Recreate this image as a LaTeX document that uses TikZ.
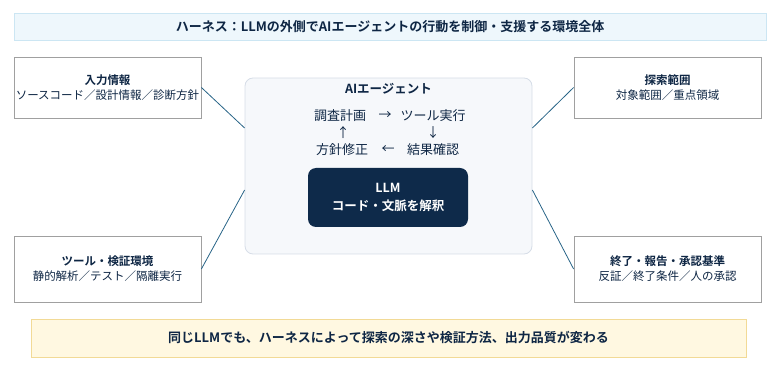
\documentclass[tikz,border=0pt]{standalone}
\usepackage{fontspec}
\setmainfont{Noto Sans CJK JP}[BoldFont={Noto Sans CJK JP Bold}]
\usetikzlibrary{positioning}
\definecolor{hnavy}{RGB}{14,38,68}
\definecolor{hline}{RGB}{40,100,135}
\definecolor{hgray}{RGB}{160,160,160}
\definecolor{hbluebg}{RGB}{238,247,252}
\definecolor{hblueedge}{RGB}{204,230,243}
\definecolor{hagentbg}{RGB}{246,248,251}
\definecolor{hagentedge}{RGB}{214,221,231}
\definecolor{hllm}{RGB}{14,42,74}
\definecolor{hyellowbg}{RGB}{255,248,225}
\definecolor{hyellowedge}{RGB}{242,218,150}

\begin{document}
\begin{tikzpicture}[
  x=1pt, y=-1pt,
  banner/.style={rectangle, draw=#1edge, fill=#1bg, line width=0.8pt,
                 text=hnavy, inner sep=0pt, text centered,
                 font=\fontsize{13}{15}\selectfont\bfseries},
  sidebox/.style={rectangle, draw=hgray, fill=white, line width=0.8pt,
                  minimum width=187pt, minimum height=#1, inner sep=0pt,
                  align=center, text=hnavy,
                  font=\fontsize{11.5}{15}\selectfont},
  looptext/.style={text=hnavy, inner sep=0pt,
                   font=\fontsize{13}{15}\selectfont},
  link/.style={draw=hline, line width=0.8pt}
]
\useasboundingbox (0,0) rectangle (780,371);

%% Banners
\node[banner=hblue, minimum width=752pt, minimum height=27pt] (title) at (390,26.5)
  {ハーネス：LLMの外側でAIエージェントの行動を制御・支援する環境全体};
\node[banner=hyellow, minimum width=715pt, minimum height=38pt] (note) at (388.5,338)
  {同じLLMでも、ハーネスによって探索の深さや検証方法、出力品質が変わる};

%% Agent block
\node[rectangle, rounded corners=8pt, draw=hagentedge, fill=hagentbg, line width=0.8pt,
      minimum width=287pt, minimum height=176pt] (agent) at (388.5,166) {};
\node[text=hnavy, inner sep=0pt, font=\fontsize{12.5}{15}\selectfont\bfseries]
  (agenttitle) at (388.5,89) {AIエージェント};

\node[looptext] (plan)  at (340,116) {調査計画};
\node[looptext] (toarr) at (385,116) {→};
\node[looptext] (tool)  at (433,116) {ツール実行};
\node[looptext] (uparr) at (343,133) {↑};
\node[looptext] (dnarr) at (433,133) {↓};
\node[looptext] (fix)   at (342,150) {方針修正};
\node[looptext] (bkarr) at (388,150) {←};
\node[looptext] (check) at (433,150) {結果確認};

\node[rectangle, rounded corners=8pt, fill=hllm, minimum width=160pt, minimum height=59pt,
      text=white, align=center, inner sep=0pt,
      font=\fontsize{12.5}{18}\selectfont\bfseries] (llm) at (388,197.5)
  {LLM\\コード・文脈を解釈};

%% Harness parts
\node[sidebox=61pt] (input) at (107.5,87.5)
  {{\bfseries 入力情報}\\ソースコード／設計情報／診断方針};
\node[sidebox=61pt] (scope) at (667.5,87.5)
  {{\bfseries 探索範囲}\\対象範囲／重点領域};
\node[sidebox=66pt] (tools) at (107.5,269)
  {{\bfseries ツール・検証環境}\\静的解析／テスト／隔離実行};
\node[sidebox=66pt] (stop)  at (667.5,269)
  {{\bfseries 終了・報告・承認基準}\\反証／終了条件／人の承認};

%% Links to the agent
\draw[link] (input.east) -- ([yshift=38pt]agent.west);
\draw[link] (scope.west) -- ([yshift=38pt]agent.east);
\draw[link] (tools.east) -- ([yshift=-24pt]agent.west);
\draw[link] (stop.west)  -- ([yshift=-24pt]agent.east);
\end{tikzpicture}
\end{document}
